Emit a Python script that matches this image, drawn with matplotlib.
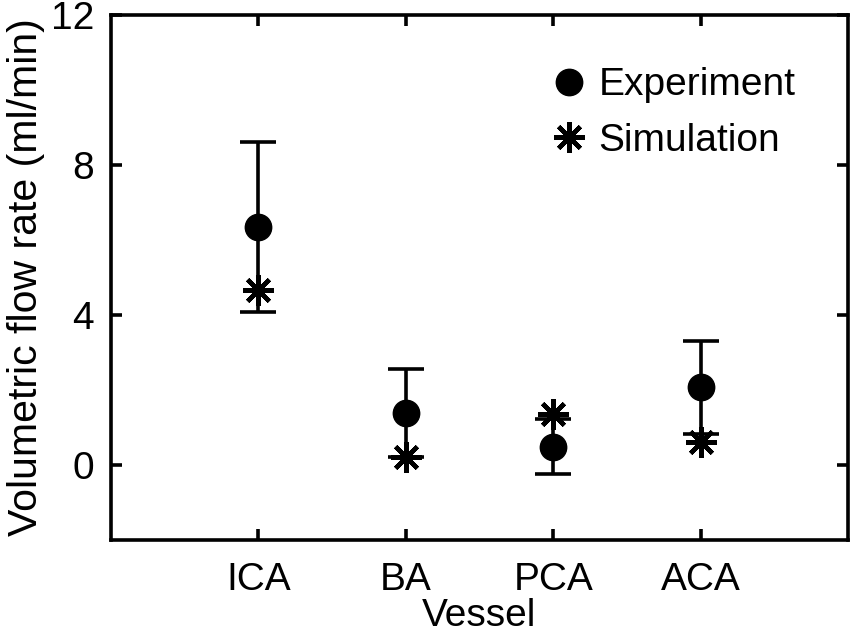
import matplotlib
matplotlib.use("Agg")
import matplotlib.pyplot as plt
from matplotlib.lines import Line2D
import numpy as np

plt.rcParams['font.family'] = ['Liberation Sans', 'DejaVu Sans']

vessels = ["ICA", "BA", "PCA", "ACA"]
experiment = [6.35, 1.39, 0.49, 2.07]
experiment_err = [2.27, 1.17, 0.73, 1.24]
simulation = [4.67, 0.22, 1.35, 0.62]
yticks = [0, 4, 8, 12]

fig = plt.figure(figsize=(8.55, 6.41), dpi=100)
ax = fig.add_axes([0.1295, 0.1576, 0.8625, 0.819])

x = np.arange(1, len(vessels) + 1)
ax.errorbar(x, experiment, yerr=experiment_err, fmt='o', color='black',
            ms=19, elinewidth=2.6, capsize=13, capthick=2.6, zorder=3)
ax.plot(x, simulation, linestyle='none', marker=(8, 2, 0), color='black',
        ms=22, mew=3.2, zorder=4)

ax.set_xlim(0, 5)
ax.set_ylim(-2, 12)
ax.set_xticks(x)
ax.set_xticklabels(vessels)
ax.set_yticks(yticks)
for s in ax.spines.values():
    s.set_linewidth(2.6)
ax.tick_params(direction='in', length=8, width=2.6, labelsize=28,
               top=True, right=True, pad=12)
ax.tick_params(axis='x', pad=16)
ax.set_xlabel("Vessel", fontsize=28, labelpad=0)
ax.set_ylabel("Volumetric flow rate (ml/min)", fontsize=29.5, labelpad=4)

handles = [
    Line2D([], [], linestyle='none', marker='o', color='black', ms=19),
    Line2D([], [], linestyle='none', marker=(8, 2, 0), color='black', ms=22, mew=3.2),
]
ax.legend(handles, ["Experiment", "Simulation"], loc='upper left', frameon=False,
          fontsize=28, handletextpad=0.15, handlelength=1.2, borderaxespad=0,
          labelspacing=0.5, bbox_to_anchor=(0.569, 0.93))

fig.savefig("out.png", dpi=100)
